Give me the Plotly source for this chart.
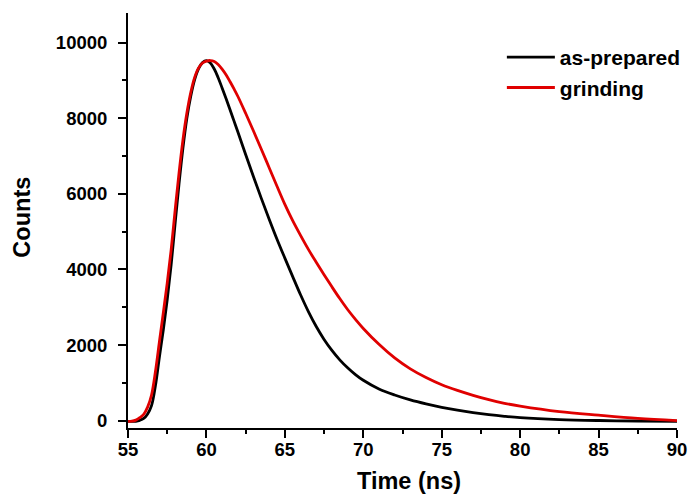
import plotly.graph_objects as go

# ---- data ----
time_as_prepared = [55.0, 55.25, 55.5, 55.75, 56.0, 56.25, 56.5, 56.75, 57.0, 57.25, 57.5, 57.75,
                    58.0, 58.25, 58.5, 58.75, 59.0, 59.25, 59.5, 59.75, 60.0, 60.25, 60.5, 60.75,
                    61.0, 61.25, 61.5, 61.75, 62.0, 62.5, 63.0, 63.5, 64.0, 64.5, 65.0, 65.5,
                    66.0, 66.5, 67.0, 67.5, 68.0, 68.5, 69.0, 69.5, 70.0, 71.0, 72.0, 73.0,
                    74.0, 75.0, 76.0, 77.0, 78.0, 79.0, 80.0, 82.5, 85.0, 87.5, 90.0]
counts_as_prepared = [-20, -18, -15, 10, 60, 180, 400, 930, 1680, 2400, 3200, 4120,
                      5200, 6250, 7200, 7990, 8580, 9020, 9310, 9470, 9520, 9460, 9300, 9070,
                      8800, 8520, 8230, 7935, 7640, 7040, 6450, 5880, 5330, 4800, 4300, 3810,
                      3330, 2885, 2490, 2150, 1860, 1610, 1400, 1220, 1070, 840, 680, 550,
                      445, 355, 280, 215, 160, 115, 80, 30, 5, -8, -15]

time_grinding = [55.0, 55.25, 55.5, 55.75, 56.0, 56.25, 56.5, 56.75, 57.0, 57.25, 57.5, 57.75,
                 58.0, 58.25, 58.5, 58.75, 59.0, 59.25, 59.5, 59.75, 60.0, 60.25, 60.5, 60.75,
                 61.0, 61.25, 61.5, 61.75, 62.0, 62.5, 63.0, 63.5, 64.0, 64.5, 65.0, 65.5,
                 66.0, 66.5, 67.0, 67.5, 68.0, 68.5, 69.0, 69.5, 70.0, 71.0, 72.0, 73.0,
                 74.0, 75.0, 76.0, 77.0, 78.0, 79.0, 80.0, 82.5, 85.0, 87.5, 90.0]
counts_grinding = [-20, -14, 15, 80, 170, 360, 680, 1300, 2080, 2850, 3640, 4520,
                   5550, 6540, 7420, 8130, 8680, 9080, 9330, 9460, 9510, 9525, 9500, 9420,
                   9300, 9150, 8970, 8780, 8580, 8130, 7660, 7180, 6690, 6200, 5720, 5290,
                   4900, 4530, 4190, 3860, 3540, 3230, 2940, 2680, 2440, 2020, 1660, 1370,
                   1140, 950, 800, 670, 555, 460, 385, 240, 145, 60, 0]

series_names = ["as-prepared", "grinding"]
x_ticks = [55, 60, 65, 70, 75, 80, 85, 90]
y_ticks = [0, 2000, 4000, 6000, 8000, 10000]

FONT = "Liberation Sans, Arial, sans-serif"

fig = go.Figure()
fig.add_trace(go.Scatter(x=time_as_prepared, y=counts_as_prepared, mode="lines",
                         name=series_names[0],
                         line=dict(color="#000000", width=2.8, shape="spline", smoothing=1.0)))
fig.add_trace(go.Scatter(x=time_grinding, y=counts_grinding, mode="lines",
                         name=series_names[1],
                         line=dict(color="#e00000", width=2.8, shape="spline", smoothing=1.0)))

axis_common = dict(showline=True, linewidth=2, linecolor="black", ticks="outside",
                   ticklen=8, tickwidth=2, tickcolor="black", showgrid=False, zeroline=False,
                   tickfont=dict(family=FONT, size=18.5, color="black", weight="bold"))

fig.update_xaxes(range=[55, 90], tickvals=x_ticks, ticktext=[str(v) for v in x_ticks],
                 minor=dict(ticks="outside", ticklen=4, tickwidth=2, tickcolor="black", dtick=2.5, tick0=55),
                 ticklabelstandoff=-4, **axis_common)
fig.update_yaxes(range=[-193, 10782], tickvals=y_ticks, ticktext=[str(v) for v in y_ticks],
                 minor=dict(ticks="outside", ticklen=4, tickwidth=2, tickcolor="black", dtick=1000, tick0=0),
                 ticklabelstandoff=7, **axis_common)

fig.update_layout(
    width=699, height=501,
    margin=dict(l=128, r=12, t=13, b=73),
    plot_bgcolor="white", paper_bgcolor="white",
    showlegend=True,
    legend=dict(x=0.681, y=0.942, xanchor="left", yanchor="top", itemwidth=48,
                bgcolor="rgba(0,0,0,0)", borderwidth=0,
                font=dict(family=FONT, size=21, color="black", weight="bold")),
    annotations=[
        dict(text="Counts", xref="paper", yref="paper", x=-0.193, y=0.507,
             textangle=-90, showarrow=False, xanchor="center", yanchor="middle",
             font=dict(family=FONT, size=23.5, color="black", weight="bold")),
        dict(text="Time (ns)", xref="paper", yref="paper", x=0.5116, y=-0.127,
             showarrow=False, xanchor="center", yanchor="middle",
             font=dict(family=FONT, size=23.5, color="black", weight="bold")),
    ],
)

# remove the browser's default 8px body margin so the figure fills the window exactly
fig.write_html("out.html", config={"displayModeBar": False},
               post_script="document.body.style.margin='0';")
